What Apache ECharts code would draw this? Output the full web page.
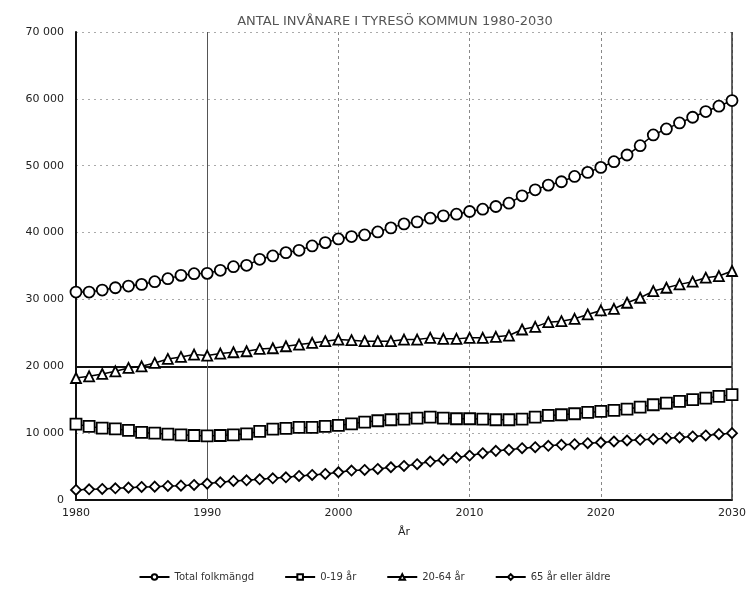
<!DOCTYPE html>
<html>
<head>
<meta charset="utf-8">
<script src="https://cdn.jsdelivr.net/npm/echarts@6/dist/echarts.min.js"></script>
<style>
    html, body { margin: 0; padding: 0; background: #fff; }
    #chart { width: 749px; height: 593px; }
</style>
</head>
<body>
<div id="chart"></div>
<script>
var years = [
    1980, 1981, 1982, 1983, 1984, 1985, 1986, 1987, 1988, 1989,
    1990, 1991, 1992, 1993, 1994, 1995, 1996, 1997, 1998, 1999,
    2000, 2001, 2002, 2003, 2004, 2005, 2006, 2007, 2008, 2009,
    2010, 2011, 2012, 2013, 2014, 2015, 2016, 2017, 2018, 2019,
    2020, 2021, 2022, 2023, 2024, 2025, 2026, 2027, 2028, 2029, 2030
];

var total = [
    31100, 31100, 31400, 31750, 32000, 32250, 32650, 33100, 33600, 33850,
    33900, 34350, 34900, 35100, 36000, 36500, 37000, 37350, 38000, 38500,
    39050, 39400, 39650, 40100, 40700, 41300, 41600, 42150, 42500, 42750,
    43150, 43500, 43900, 44400, 45500, 46400, 47100, 47600, 48400, 49000,
    49750, 50600, 51600, 53000, 54600, 55500, 56400, 57250, 58100, 58900, 59750
];

var age0to19 = [
    11350, 11000, 10750, 10650, 10400, 10100, 10000, 9850, 9750, 9650,
    9600, 9650, 9750, 9900, 10250, 10600, 10700, 10850, 10850, 11000,
    11150, 11400, 11650, 11850, 12000, 12100, 12250, 12400, 12250, 12150,
    12150, 12100, 12000, 12000, 12100, 12400, 12650, 12750, 12900, 13100,
    13250, 13400, 13600, 13900, 14250, 14500, 14750, 15000, 15250, 15500, 15750
];

var age20to64 = [
    18250, 18500, 18850, 19250, 19750, 20000, 20500, 21100, 21400, 21750,
    21600, 21900, 22100, 22250, 22600, 22700, 23000, 23250, 23500, 23750,
    24000, 23900, 23750, 23750, 23750, 24000, 24000, 24250, 24100, 24100,
    24250, 24250, 24400, 24600, 25500, 25900, 26600, 26750, 27100, 27750,
    28350, 28600, 29500, 30250, 31250, 31750, 32250, 32650, 33250, 33500, 34250
];

var age65plus = [
    1500, 1600, 1650, 1750, 1850, 1950, 2000, 2100, 2150, 2250,
    2450, 2650, 2850, 2950, 3100, 3250, 3400, 3600, 3750, 3900,
    4150, 4400, 4500, 4650, 4900, 5100, 5350, 5750, 6000, 6350,
    6650, 7000, 7350, 7500, 7750, 7900, 8100, 8250, 8350, 8500,
    8600, 8750, 8900, 9000, 9100, 9250, 9350, 9500, 9650, 9850, 10000
];

var seriesNames = ['Total folkmängd', '0-19 år', '20-64 år', '65 år eller äldre'];
var seriesSymbols = ['circle', 'rect', 'triangle', 'diamond'];
var seriesSizes = [11, 11, 10, 10];
var seriesValues = [total, age0to19, age20to64, age65plus];

function pairs(values) {
    return values.map(function (v, i) { return [years[i], v]; });
}

var font = 'DejaVu Sans';

var series = seriesValues.map(function (values, i) {
    return {
        name: seriesNames[i],
        type: 'line',
        symbol: seriesSymbols[i],
        symbolSize: seriesSizes[i],
        showAllSymbol: true,
        lineStyle: { color: '#000', width: 1.5 },
        itemStyle: { color: '#fff', borderColor: '#000', borderWidth: 1.8 },
        emphasis: { disabled: true },
        z: 5,
        data: pairs(values)
    };
});

// reference lines: solid 20 000 line and solid 1990 / 2030 verticals
series[0].markLine = {
    silent: true,
    symbol: 'none',
    label: { show: false },
    data: [
        { yAxis: 20000, lineStyle: { color: '#111', width: 2, type: 'solid' } },
        { xAxis: 1990, lineStyle: { color: '#555', width: 1, type: 'solid' } },
        { xAxis: 2030, lineStyle: { color: '#333', width: 1.5, type: 'solid' } }
    ]
};

var option = {
    backgroundColor: '#fff',
    animation: false,
    title: {
        text: 'ANTAL INVÅNARE I TYRESÖ KOMMUN 1980-2030',
        left: 390,
        textAlign: 'center',
        top: 10,
        textStyle: { fontFamily: font, fontSize: 13, fontWeight: 'normal', color: '#555' }
    },
    legend: {
        bottom: 6,
        left: 'center',
        itemGap: 30,
        itemWidth: 30,
        itemHeight: 7,
        textStyle: { fontFamily: font, fontSize: 10, color: '#333' },
        data: seriesNames
    },
    grid: { left: 76, right: 16, top: 32, bottom: 93 },
    xAxis: {
        type: 'value',
        min: 1980,
        max: 2030,
        interval: 10,
        name: 'År',
        nameLocation: 'middle',
        nameGap: 27,
        nameTextStyle: { fontFamily: font, fontSize: 11, color: '#222' },
        axisLine: { show: true, lineStyle: { color: '#111', width: 2 } },
        axisTick: { show: false },
        axisLabel: {
            fontFamily: font, fontSize: 11, color: '#222', margin: 8,
            formatter: function (v) { return String(v); }
        },
        splitLine: { show: true, lineStyle: { color: '#888', type: [3, 3], width: 1 } }
    },
    yAxis: {
        type: 'value',
        min: 0,
        max: 70000,
        interval: 10000,
        axisLine: { show: true, lineStyle: { color: '#111', width: 2 } },
        axisTick: { show: false },
        axisLabel: {
            fontFamily: font, fontSize: 11, color: '#222', margin: 12,
            formatter: function (v) {
                return v === 0 ? '0' : String(v).replace(/\B(?=(\d{3})+(?!\d))/g, ' ');
            }
        },
        splitLine: { show: true, lineStyle: { color: '#aaa', type: [2, 4], width: 1 } }
    },
    series: series
};

var chart = echarts.init(document.getElementById('chart'));
chart.setOption(option);
</script>
</body>
</html>
